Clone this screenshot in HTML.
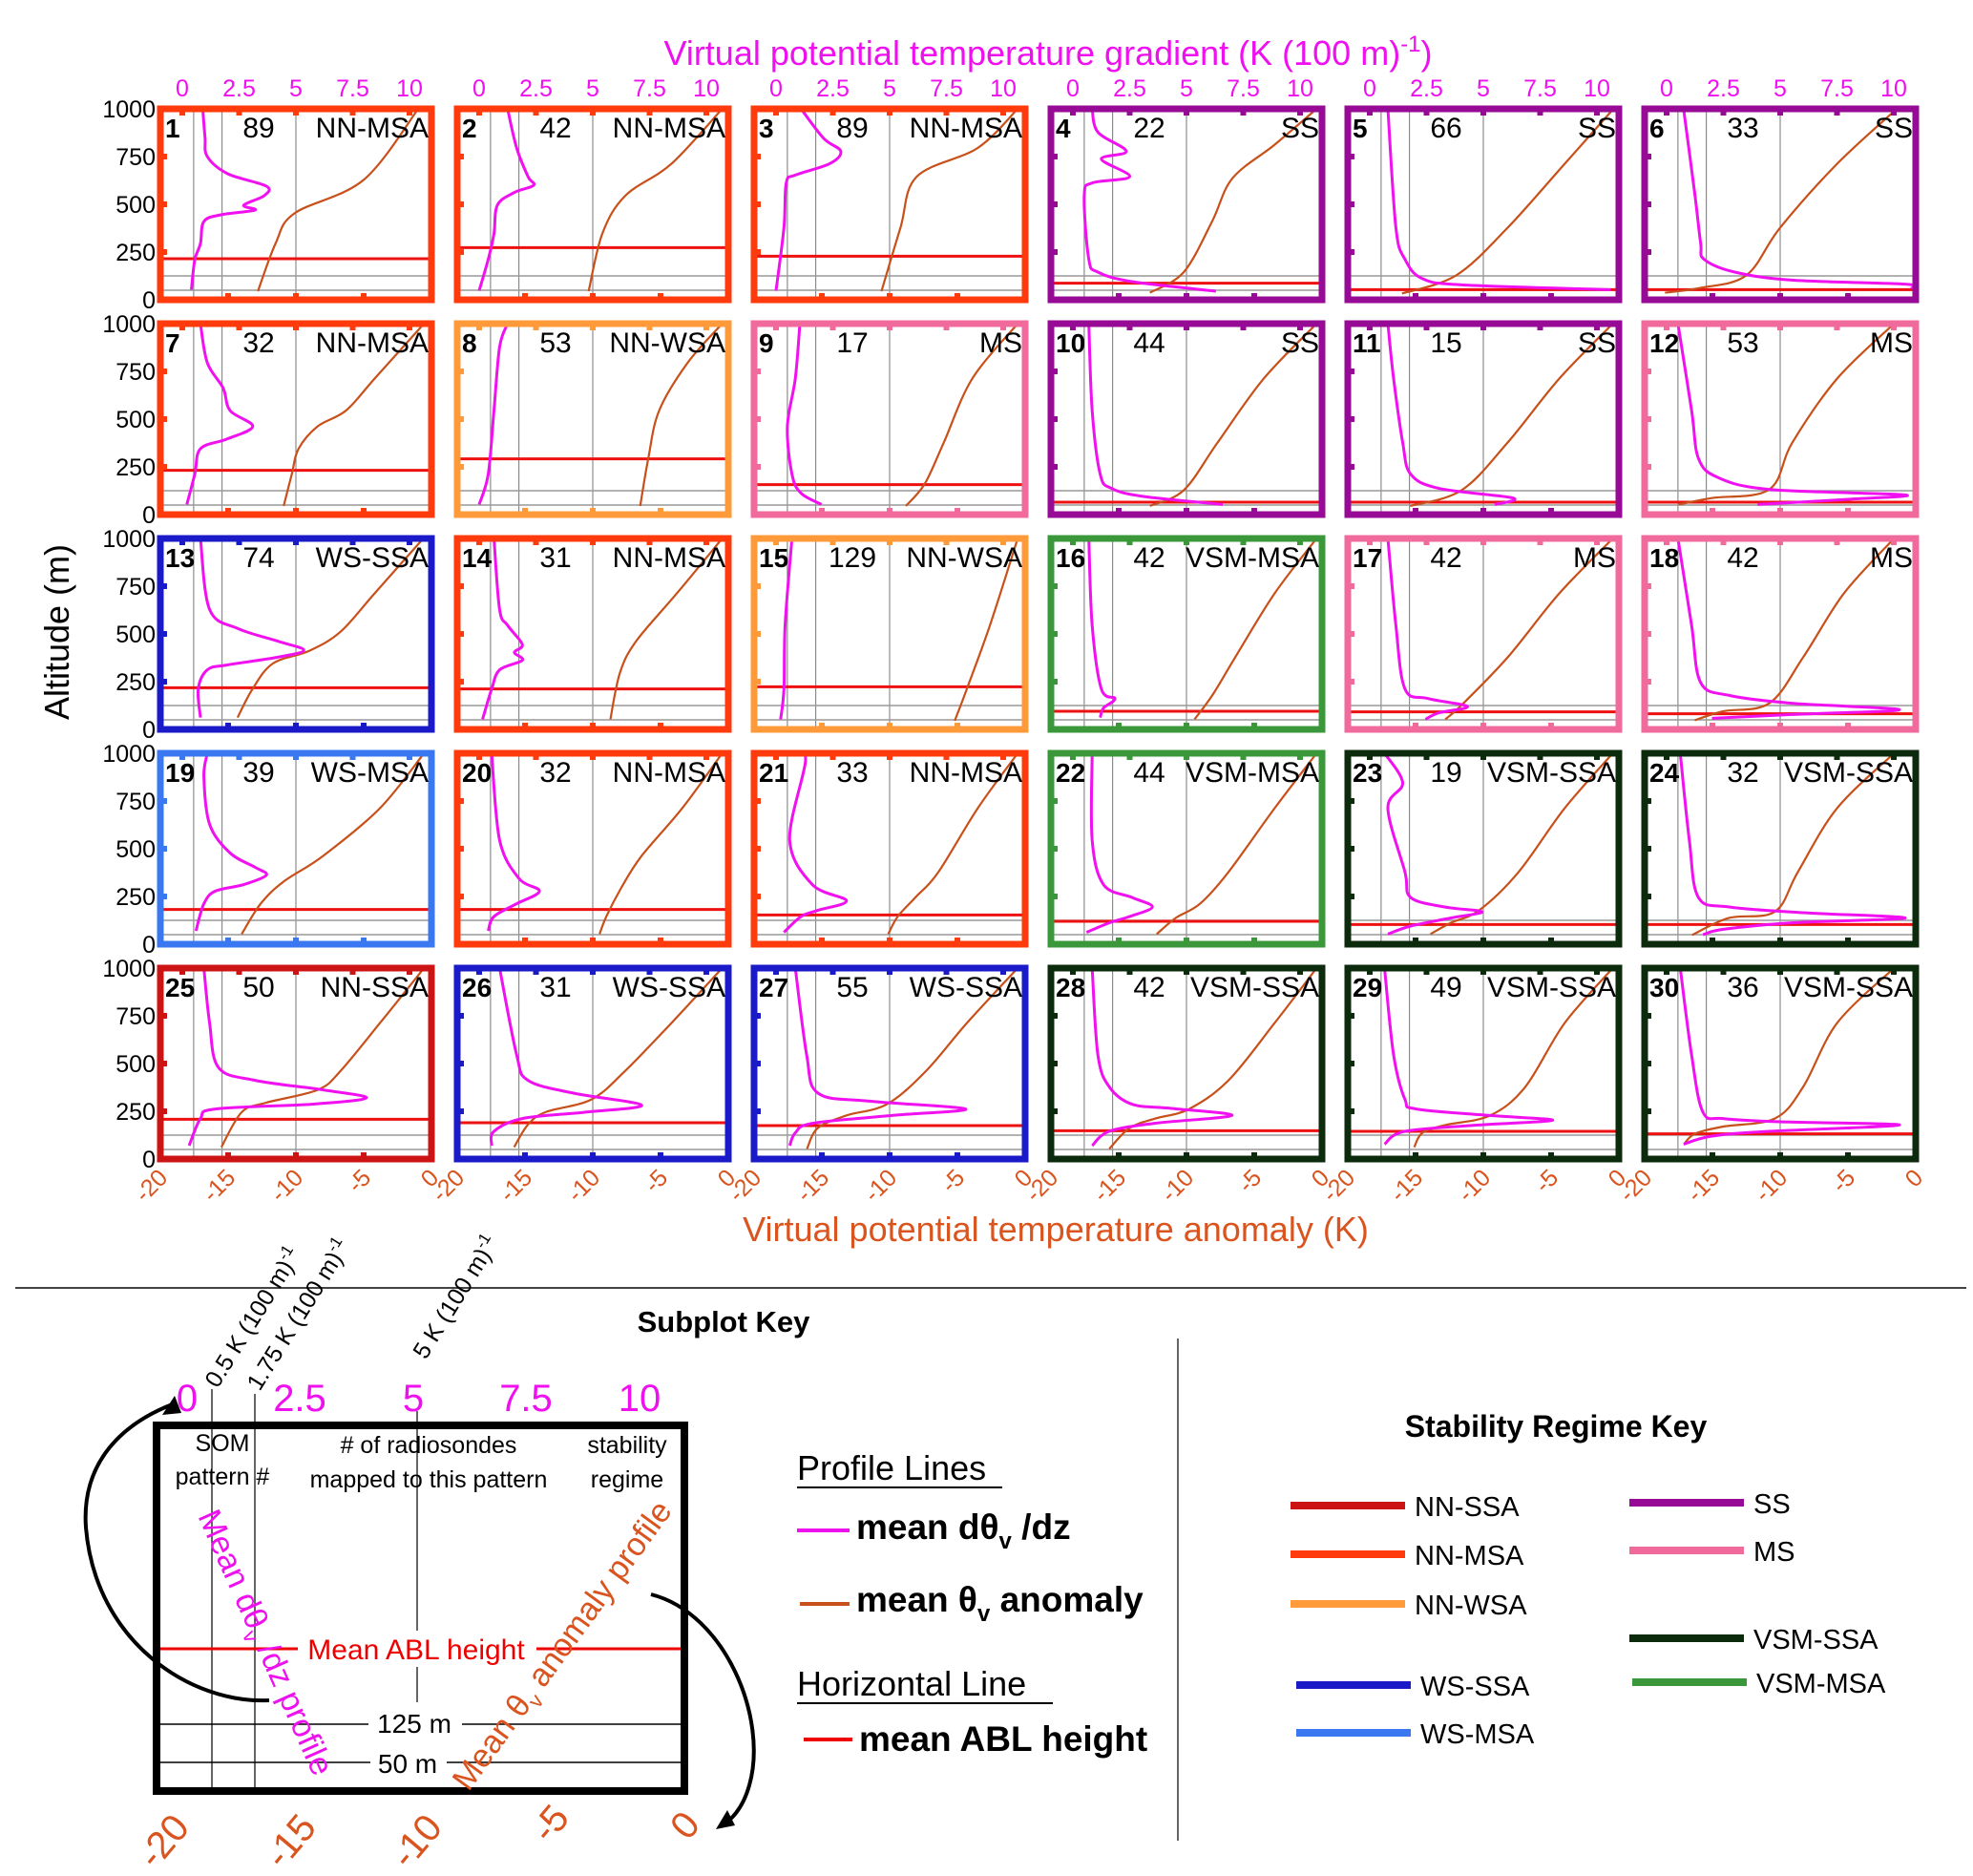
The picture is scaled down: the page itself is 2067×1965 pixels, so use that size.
<!DOCTYPE html>
<html><head><meta charset="utf-8"><style>
html,body{margin:0;padding:0;background:#fff;}
svg{display:block;font-family:"Liberation Sans",sans-serif;}
</style></head><body>
<svg id="fig" width="2067" height="1965" viewBox="0 0 2067 1965" xmlns="http://www.w3.org/2000/svg">
<rect x="0" y="0" width="2067" height="1965" fill="#fff"/>
<g id="panels"></g>
<text x="1098" y="68" font-size="36" fill="#ee10ee" text-anchor="middle">Virtual potential temperature gradient (K (100 m)<tspan font-size="24" dy="-14">-1</tspan><tspan dy="14">)</tspan></text>
<text transform="translate(72,662) rotate(-90)" font-size="36" fill="#000" text-anchor="middle">Altitude (m)</text>
<text x="1106" y="1300" font-size="36" fill="#d9541e" text-anchor="middle">Virtual potential temperature anomaly (K)</text>
<line x1="16" y1="1349" x2="2060" y2="1349" stroke="#444" stroke-width="2"/>
<line x1="1234" y1="1402" x2="1234" y2="1928" stroke="#333" stroke-width="1.5"/>

<g>
<text x="758" y="1395" font-size="31" font-weight="bold" text-anchor="middle">Subplot Key</text>
<text transform="translate(228,1455) rotate(-58)" font-size="25">0.5 K (100 m)<tspan font-size="17" dy="-10">-1</tspan></text>
<text transform="translate(272,1458) rotate(-58)" font-size="25">1.75 K (100 m)<tspan font-size="17" dy="-10">-1</tspan></text>
<text transform="translate(446,1425) rotate(-58)" font-size="25">5 K (100 m)<tspan font-size="17" dy="-10">-1</tspan></text>
<g font-size="40" fill="#ee10ee" text-anchor="middle">
<text x="196" y="1478">0</text><text x="314" y="1478">2.5</text><text x="433" y="1478">5</text><text x="551" y="1478">7.5</text><text x="670" y="1478">10</text></g>
<line x1="222" y1="1455" x2="222" y2="1876" stroke="#000" stroke-width="1.2"/>
<line x1="267" y1="1460" x2="267" y2="1876" stroke="#000" stroke-width="1.2"/>
<line x1="437" y1="1478" x2="437" y2="1815" stroke="#000" stroke-width="1.2"/>
<line x1="168" y1="1727" x2="713" y2="1727" stroke="#e00" stroke-width="3"/>
<line x1="168" y1="1806" x2="713" y2="1806" stroke="#000" stroke-width="1.5"/>
<line x1="168" y1="1846" x2="713" y2="1846" stroke="#000" stroke-width="1.5"/>
<rect x="312" y="1708" width="250" height="38" fill="#fff"/>
<rect x="386" y="1783" width="98" height="40" fill="#fff"/>
<rect x="388" y="1825" width="80" height="38" fill="#fff"/>
<rect x="164" y="1493" width="553" height="383" fill="none" stroke="#000" stroke-width="8"/>
<g font-size="25" text-anchor="middle">
<text x="233" y="1520">SOM</text><text x="233" y="1555">pattern #</text>
<text x="449" y="1522"># of radiosondes</text><text x="449" y="1558">mapped to this pattern</text>
<text x="657" y="1522">stability</text><text x="657" y="1558">regime</text></g>
<text x="436" y="1738" font-size="30" fill="#e00" text-anchor="middle">Mean ABL height</text>
<text x="434" y="1815" font-size="28" text-anchor="middle">125 m</text>
<text x="427" y="1857" font-size="28" text-anchor="middle">50 m</text>
<text transform="translate(268,1725) rotate(66)" font-size="34" fill="#ee10ee" text-anchor="middle">Mean dθ<tspan font-size="22" dy="8">v</tspan><tspan dy="-8"> /dz profile</tspan></text>
<text transform="translate(598,1730) rotate(-54)" font-size="34" fill="#d9541e" text-anchor="middle">Mean θ<tspan font-size="22" dy="8">v</tspan><tspan dy="-8"> anomaly profile</tspan></text>
<path d="M282,1781 C200,1785 100,1720 90,1600 C85,1530 130,1490 183,1470" fill="none" stroke="#000" stroke-width="4"/>
<polygon points="183,1462 170,1482 190,1480" fill="#000"/>
<path d="M682,1670 C760,1690 805,1800 785,1870 C778,1895 765,1908 755,1912" fill="none" stroke="#000" stroke-width="4"/>
<polygon points="750,1916 762,1896 770,1912" fill="#000"/>
<g font-size="40" fill="#d9541e">
<text transform="translate(200,1915) rotate(-50)" text-anchor="end">-20</text>
<text transform="translate(333,1915) rotate(-50)" text-anchor="end">-15</text>
<text transform="translate(465,1915) rotate(-50)" text-anchor="end">-10</text>
<text transform="translate(598,1905) rotate(-50)" text-anchor="end">-5</text>
<text transform="translate(735,1912) rotate(-50)" text-anchor="end">0</text></g>
</g>

<g>
<text x="835" y="1550" font-size="36">Profile Lines</text>
<line x1="835" y1="1558" x2="1050" y2="1558" stroke="#000" stroke-width="2"/>
<line x1="835" y1="1603" x2="890" y2="1603" stroke="#ee10ee" stroke-width="4"/>
<text x="897" y="1612" font-size="37" font-weight="bold">mean dθ<tspan font-size="24" dy="10">v</tspan><tspan dy="-10"> /dz</tspan></text>
<line x1="838" y1="1680" x2="890" y2="1680" stroke="#c8501a" stroke-width="4"/>
<text x="897" y="1688" font-size="37" font-weight="bold">mean θ<tspan font-size="24" dy="10">v</tspan><tspan dy="-10"> anomaly</tspan></text>
<text x="835" y="1776" font-size="36">Horizontal Line</text>
<line x1="835" y1="1784" x2="1103" y2="1784" stroke="#000" stroke-width="2"/>
<line x1="842" y1="1822" x2="893" y2="1822" stroke="#e00" stroke-width="4"/>
<text x="900" y="1834" font-size="37" font-weight="bold">mean ABL height</text>
</g>

<g>
<text x="1630" y="1505" font-size="32" font-weight="bold" text-anchor="middle">Stability Regime Key</text>
<g id="regkey"></g>
</g>
</svg>
<script>
const regimes = ["NN-MSA","NN-MSA","NN-MSA","SS","SS","SS","NN-MSA","NN-WSA","MS","SS","SS","MS","WS-SSA","NN-MSA","NN-WSA","VSM-MSA","MS","MS","WS-MSA","NN-MSA","NN-MSA","VSM-MSA","VSM-SSA","VSM-SSA","NN-SSA","WS-SSA","WS-SSA","VSM-SSA","VSM-SSA","VSM-SSA"];
const counts = [89,42,89,22,66,33,32,53,17,44,15,53,74,31,129,42,42,42,39,32,33,44,19,32,50,31,55,42,49,36];
const ablHeights = [215,273,228,87,53,53,232,292,157,65,65,65,218,212,223,95,92,82,182,182,153,120,103,103,208,190,175,148,145,132];
const yTicks = [0,250,500,750,1000];
const gradTicks = [0,2.5,5,7.5,10];
const anomTicks = [-20,-15,-10,-5,0];
const gradProfiles = [
[[1000,0.9],[850,1.0],[750,1.1],[660,2.0],[595,3.7],[545,3.6],[495,2.7],[470,3.2],[445,1.7],[410,0.95],[295,0.8],[210,0.55],[53,0.4]],
[[1000,1.25],[795,1.65],[645,2.15],[600,2.4],[562,1.55],[495,0.8],[345,0.65],[212,0.4],[48,0.0]],
[[1000,1.1],[845,2.1],[778,2.85],[712,2.35],[653,0.85],[612,0.45],[378,0.35],[48,0.0]],
[[1000,0.85],[878,1.1],[778,2.35],[737,1.25],[645,2.5],[612,0.85],[545,0.5],[212,0.7],[145,1.1],[95,2.6],[45,6.3]],
[[1000,0.8],[378,1.15],[212,1.55],[112,2.3],[78,4.05],[53,10.6]],
[[1000,0.75],[545,1.25],[295,1.5],[212,1.65],[145,3.0],[103,5.5],[82,10.5],[60,10.8]],
[[1000,0.8],[795,1.1],[662,1.8],[545,2.1],[462,3.1],[395,1.95],[345,0.8],[212,0.55],[53,0.2]],
[[1000,1.25],[878,0.9],[545,0.65],[212,0.4],[53,0.0]],
[[1000,1.05],[712,0.85],[462,0.5],[212,0.7],[112,1.1],[53,2.0]],
[[1000,0.7],[545,0.85],[212,1.2],[137,1.7],[95,3.1],[53,6.6]],
[[1000,0.8],[712,1.05],[378,1.45],[212,1.8],[137,3.05],[87,6.3],[53,5.5]],
[[1000,0.5],[545,1.1],[295,1.4],[195,2.25],[132,4.5],[103,10.5],[80,8.0],[53,4.0]],
[[1000,0.8],[628,1.2],[528,2.45],[462,4.2],[415,5.35],[378,4.2],[337,1.95],[312,1.1],[212,0.7],[62,0.8]],
[[1000,0.65],[628,0.9],[545,1.25],[445,1.9],[403,1.55],[362,1.9],[312,0.9],[212,0.55],[53,0.15]],
[[1000,0.7],[545,0.4],[212,0.35],[53,0.2]],
[[1000,0.7],[545,0.85],[212,1.25],[162,1.85],[112,1.35],[62,1.2]],
[[1000,0.8],[545,1.15],[212,1.55],[162,2.55],[120,4.3],[87,3.05],[53,2.45]],
[[1000,0.5],[545,1.1],[245,1.5],[178,2.75],[137,5.5],[103,10.25],[78,5.5],[58,2.0]],
[[1000,1.1],[878,0.95],[628,1.2],[478,2.1],[403,3.2],[362,3.7],[312,2.7],[278,1.45],[212,0.95],[70,0.6]],
[[1000,0.55],[545,0.9],[345,1.75],[278,2.65],[212,1.65],[145,0.65],[70,0.4]],
[[1000,0.85],[960,1.3],[545,0.6],[312,1.6],[228,3.1],[178,1.85],[145,1.1],[62,0.35]],
[[1000,0.85],[545,0.85],[312,1.35],[245,2.6],[195,3.5],[145,2.5],[112,1.6],[62,0.6]],
[[1000,0.65],[845,1.45],[712,0.8],[378,1.55],[245,1.8],[195,3.3],[170,4.95],[137,3.55],[95,1.8],[53,0.8]],
[[1000,0.6],[545,1.0],[245,1.4],[195,2.75],[165,6.0],[137,10.5],[112,5.5],[78,2.5],[50,1.6]],
[[1000,0.95],[712,1.2],[478,1.6],[412,3.2],[362,6.2],[320,8.1],[287,5.7],[262,1.45],[212,0.8],[70,0.3]],
[[1000,0.9],[545,1.65],[412,2.15],[345,4.15],[282,7.15],[245,4.65],[212,1.9],[145,0.65],[70,0.55]],
[[1000,0.85],[545,1.35],[345,1.85],[303,4.1],[262,8.35],[228,5.1],[187,1.6],[137,0.85],[70,0.6]],
[[1000,0.85],[545,1.1],[378,1.6],[287,2.6],[265,4.35],[228,7.0],[187,3.6],[145,1.6],[70,0.85]],
[[1000,0.65],[545,1.05],[312,1.55],[262,2.05],[228,5.3],[203,8.05],[178,4.8],[145,1.55],[78,0.65]],
[[1000,0.6],[545,1.1],[245,1.6],[212,2.5],[195,5.0],[178,10.25],[145,4.5],[120,2.0],[78,0.75]]
];
const anomProfiles = [
[[1000,-0.97],[628,-5.0],[453,-10.1],[295,-11.5],[45,-12.8]],
[[1000,-0.45],[712,-4.2],[545,-7.6],[345,-9.3],[45,-10.3]],
[[1000,-0.55],[795,-3.5],[645,-8.0],[378,-9.2],[45,-10.6]],
[[1000,-0.4],[812,-3.5],[637,-6.6],[412,-8.1],[145,-10.2],[37,-12.7]],
[[1000,-0.4],[712,-4.0],[378,-8.2],[128,-12.0],[33,-16.0]],
[[1000,-1.4],[712,-5.8],[378,-10.0],[128,-12.5],[62,-15.9],[37,-18.5]],
[[1000,-0.55],[712,-4.2],[545,-6.3],[462,-8.4],[345,-9.8],[212,-10.3],[45,-10.9]],
[[1000,-0.45],[795,-3.0],[545,-5.1],[295,-5.9],[45,-6.5]],
[[1000,-0.55],[712,-3.9],[378,-6.0],[162,-7.4],[45,-8.8]],
[[1000,-0.4],[712,-4.3],[378,-7.7],[128,-10.2],[45,-12.7]],
[[1000,-0.45],[712,-4.4],[378,-8.2],[128,-11.6],[45,-15.4]],
[[1000,-1.6],[712,-5.8],[378,-9.1],[132,-10.8],[87,-15.0],[53,-17.5]],
[[1000,-0.6],[712,-4.2],[512,-6.7],[412,-9.0],[345,-11.7],[212,-13.2],[62,-14.3]],
[[1000,-0.45],[712,-3.8],[462,-6.8],[295,-8.0],[53,-8.7]],
[[1000,-0.55],[545,-2.6],[212,-4.3],[45,-5.2]],
[[1000,-0.4],[712,-3.5],[378,-6.4],[178,-8.1],[53,-9.4]],
[[1000,-0.45],[712,-4.4],[378,-8.2],[128,-11.6],[53,-12.8]],
[[1000,-1.6],[712,-5.3],[378,-8.3],[137,-10.8],[95,-14.2],[48,-16.3]],
[[1000,-0.55],[712,-3.8],[462,-8.0],[328,-10.9],[212,-12.6],[53,-14.0]],
[[1000,-0.45],[712,-3.4],[462,-6.4],[295,-7.9],[145,-9.0],[53,-9.5]],
[[1000,-0.55],[712,-3.5],[378,-6.4],[245,-8.1],[145,-9.4],[53,-10.1]],
[[1000,-0.4],[712,-3.5],[378,-6.9],[212,-9.0],[137,-10.8],[53,-12.2]],
[[1000,-0.45],[712,-4.0],[378,-7.4],[178,-10.3],[112,-12.4],[53,-13.9]],
[[1000,-1.6],[712,-5.8],[378,-8.7],[170,-10.4],[137,-13.8],[48,-16.5]],
[[1000,-0.55],[712,-3.8],[462,-6.7],[362,-8.4],[295,-12.2],[245,-14.0],[62,-15.5]],
[[1000,-0.45],[712,-4.2],[462,-7.6],[312,-10.1],[245,-13.5],[178,-14.8],[62,-15.8]],
[[1000,-0.55],[712,-4.3],[462,-7.3],[287,-10.2],[228,-13.2],[162,-15.3],[53,-16.1]],
[[1000,-0.4],[712,-3.5],[412,-6.9],[262,-9.8],[212,-12.3],[162,-14.2],[53,-15.7]],
[[1000,-0.45],[712,-4.0],[378,-6.9],[228,-9.5],[178,-12.8],[137,-14.5],[62,-15.1]],
[[1000,-1.6],[712,-5.8],[378,-8.3],[212,-10.4],[170,-14.2],[132,-16.3],[78,-17.1]]
];
const regimeNames = ["NN-SSA","NN-MSA","NN-WSA","WS-SSA","WS-MSA","SS","MS","VSM-SSA","VSM-MSA"];
const regimeColors = ["#cc1414","#ff3a0c","#ff9a3a","#1a1ac8","#3a78f2","#960a96","#f06a9c","#0c2a0c","#3a983a"];

const NS="http://www.w3.org/2000/svg";
function mk(tag, attrs, parent){const e=document.createElementNS(NS,tag);for(const k in attrs)e.setAttribute(k,attrs[k]);parent.appendChild(e);return e;}
function colorOf(r){return regimeColors[regimeNames.indexOf(r)];}
const PW=284, PH=200;
function xA(c,a){return 168+311*c+(a+20)*PW/20;}
function xG(c,g){return 168+311*c+142+(g-5)*23.8;}
function yZ(r,z){return 114+225*r+PH-z*PH/1000;}
function smooth(pts){
  let d="M"+pts[0][0].toFixed(1)+","+pts[0][1].toFixed(1);
  for(let i=0;i<pts.length-1;i++){
    const p0=pts[Math.max(0,i-1)],p1=pts[i],p2=pts[i+1],p3=pts[Math.min(pts.length-1,i+2)];
    const c1=[p1[0]+(p2[0]-p0[0])/6,p1[1]+(p2[1]-p0[1])/6];
    const c2=[p2[0]-(p3[0]-p1[0])/6,p2[1]-(p3[1]-p1[1])/6];
    d+=" C"+c1[0].toFixed(1)+","+c1[1].toFixed(1)+" "+c2[0].toFixed(1)+","+c2[1].toFixed(1)+" "+p2[0].toFixed(1)+","+p2[1].toFixed(1);
  }
  return d;
}
const root=document.getElementById("panels");
for(let i=0;i<30;i++){
  const r=Math.floor(i/6), c=i%6;
  const col=colorOf(regimes[i]);
  const x0=xA(c,-20), x1=xA(c,0), yt=yZ(r,1000), yb=yZ(r,0);
  const g=mk("g",{},root);
  
  
  [0.5,1.75,5].forEach(v=>{
    const l=mk("line",{x1:xG(c,v),x2:xG(c,v),y1:yt,y2:yb,stroke:"#777","stroke-width":1},g);
    
    
  });
  [50,125].forEach(v=>{
    const l=mk("line",{x1:x0,x2:x1,y1:yZ(r,v),y2:yZ(r,v),stroke:"#999","stroke-width":1.5},g);
    
    
  });
  const abl=mk("line",{x1:x0,x2:x1,y1:yZ(r,ablHeights[i]),y2:yZ(r,ablHeights[i]),stroke:"#ee1111","stroke-width":3},g);
  
  
  const ap=anomProfiles[i].map(p=>[xA(c,p[1]),yZ(r,p[0])]);
  const an=mk("path",{d:smooth(ap),fill:"none",stroke:"#c8501a","stroke-width":2.2},g);
  
  
  const gp=gradProfiles[i].map(p=>[Math.min(xG(c,p[1]),x1),yZ(r,p[0])]);
  const gr=mk("path",{d:smooth(gp),fill:"none",stroke:"#f010f0","stroke-width":3},g);
  
  
  const b=mk("rect",{x:x0,y:yt,width:PW,height:PH,fill:"none",stroke:col,"stroke-width":7},g);
  
  
  [250,500,750].forEach(v=>{mk("rect",{x:x0+3,y:yZ(r,v)-3,width:4,height:6,fill:col},g);});
  gradTicks.forEach(v=>{mk("rect",{x:xG(c,v)-3,y:yt+3,width:6,height:4,fill:col},g);});
  [-15,-10,-5].forEach(v=>{mk("rect",{x:xA(c,v)-3,y:yb-7,width:6,height:4,fill:col},g);});
  const t1=mk("text",{x:x0+5,y:yt+30,"font-size":28,"font-weight":"bold"},g); t1.textContent=String(i+1);
  
  
  const t2=mk("text",{x:x0+103,y:yt+30,"font-size":30,"text-anchor":"middle"},g); t2.textContent=String(counts[i]);
  
  
  const t3=mk("text",{x:x1-3,y:yt+30,"font-size":30,"text-anchor":"end"},g); t3.textContent=regimes[i];
  
  
  if(r===0){
    gradTicks.forEach(v=>{
      const t=mk("text",{x:xG(c,v),y:101,"font-size":25,fill:"#ee10ee","text-anchor":"middle"},root);
      t.textContent=String(v);
      
      
    });
  }
  if(c===0){
    yTicks.forEach(v=>{
      const t=mk("text",{x:163,y:yZ(r,v)+9,"font-size":25,"text-anchor":"end"},root);
      t.textContent=String(v);
      
      
    });
  }
  if(r===4){
    anomTicks.forEach(v=>{
      const t=mk("text",{transform:"translate("+(xA(c,v)+9)+","+(yb+21)+") rotate(-45)","font-size":25,fill:"#d9541e","text-anchor":"end"},root);
      t.textContent=String(v);
      
      
    });
  }
}
const keyPos=[[1352,1577],[1352,1628],[1352,1680],[1358,1765],[1358,1815],[1707,1574],[1707,1624],[1707,1716],[1710,1762]];
const rk=document.getElementById("regkey");
regimeNames.forEach((n,k)=>{
  const [x,y]=keyPos[k];
  const l=mk("line",{x1:x,x2:x+120,y1:y,y2:y,stroke:regimeColors[k],"stroke-width":8},rk);
  
  
  const t=mk("text",{x:x+130,y:y+11,"font-size":29},rk);
  t.textContent=n;
  
  
});
</script>
</body></html>
